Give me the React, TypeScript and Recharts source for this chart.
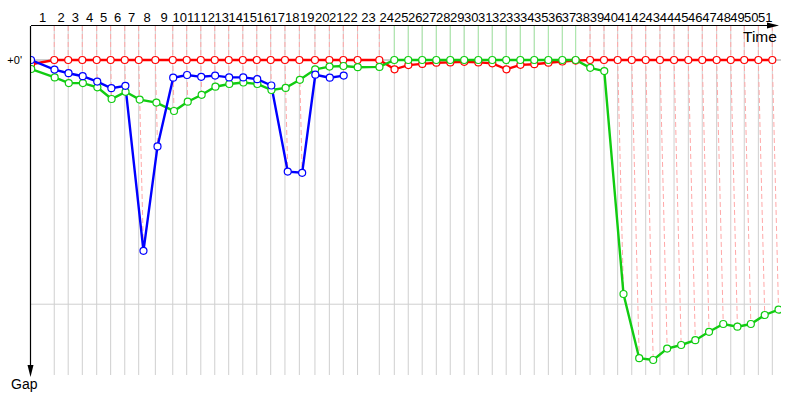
import React from 'react';
import { ComposedChart, Line, XAxis, YAxis } from 'recharts';

// Leader lap durations (seconds), laps 1..51
const lapDurations = [
  155, 93, 94, 96, 93, 94, 93, 111, 116, 93,
  94, 93, 93, 94, 93, 93, 95, 96, 104, 96,
  93, 95, 145, 100, 93, 93, 94, 93, 93, 94,
  93, 93, 94, 93, 94, 93, 89, 96, 93, 91,
  94, 93, 95, 94, 95, 93, 96, 94, 90, 94, 93,
];

// Gap to leader (seconds), index = lap (0 = start)
const redGap = [
  0.7,
  0, 0, 0, 0, 0, 0, 0, 0, 0, 0, 0, 0, 0, 0, 0, 0, 0, 0, 0, 0, 0, 0, 0,
  1.55, 0.85, 0.65, 0.45, 0.4, 0.3, 0.4, 0.55, 1.55, 0.8, 0.7, 0.45, 0.25, 0.1,
  0, 0, 0, 0, 0, 0, 0, 0, 0, 0, 0, 0, 0, 0,
];
const blueGap = [
  0, 1.6, 2.2, 2.7, 3.6, 4.7, 4.3, 31.8, 14.4, 2.95, 2.5,
  2.8, 2.6, 2.9, 2.9, 3.2, 4.25, 18.6, 18.8, 2.45, 2.95, 2.6,
];
const greenGap = [
  1.5, 2.9, 3.85, 3.85, 4.55, 6.5, 5.3, 6.6, 7.1, 8.5, 6.95,
  5.8, 4.45, 4.0, 3.75, 4.0, 5.0, 4.65, 3.3, 1.55, 1.1,
  1.0, 1.2, 1.15,
  0, 0, 0, 0, 0, 0, 0, 0, 0, 0, 0, 0, 0, 0,
  1.3, 1.85, 39.0, 49.7, 50.0, 48.1, 47.5, 46.7, 45.3, 44.0, 44.45, 44.0, 42.5, 41.6,
];

const lapLabels = lapDurations.map((_, i) => String(i + 1));
const GAP_MIN = -5.67;
const GAP_MAX = 52.5;
const TIME_MAX = 5000;
const refGap = 40.7;
const refEnd = 4930;

const RED = '#ff0000';
const BLUE = '#0000ff';
const GREEN = '#11cc11';

const leaderTime: number[] = [0];
lapDurations.forEach((d) => leaderTime.push(leaderTime[leaderTime.length - 1] + d));

const toPoints = (gaps: number[]) => gaps.map((g, i) => ({ t: leaderTime[i] + g, v: g }));
const redPts = toPoints(redGap);
const bluePts = toPoints(blueGap);
const greenPts = toPoints(greenGap);

const tickPositions = lapDurations.map((_, i) => (leaderTime[i] + leaderTime[i + 1]) / 2);

const gridPts: any[] = [];
for (let n = 1; n < leaderTime.length; n++) {
  const L = leaderTime[n];
  gridPts.push({ t: L, v: GAP_MIN }, { t: L, v: GAP_MAX }, { t: L, v: null });
}

const redLed: any[] = [];
const greenLed: any[] = [];
for (let n = 1; n < leaderTime.length; n++) {
  const L = leaderTime[n];
  const gaps = [redGap[n], blueGap[n], greenGap[n]].filter((g) => g !== undefined) as number[];
  const maxGap = Math.max(...gaps);
  const greenLeads = greenGap[n] === 0 && redGap[n] > 0;
  const target = greenLeads ? greenLed : redLed;
  target.push(
    { t: L, v: GAP_MIN },
    { t: L, v: 0 },
    { t: L + maxGap, v: maxGap },
    { t: L + maxGap, v: null }
  );
}

const zeroPts = [{ t: 0, v: 0 }, { t: TIME_MAX, v: 0 }];
const refPts = [{ t: 0, v: refGap }, { t: refEnd, v: refGap }];

const FONT = 'Liberation Sans, Arial, sans-serif';

export default function App() {
  return (
    <div style={{ position: 'absolute', left: 0, top: 0, width: 800, height: 400, background: '#fff' }}>
      <ComposedChart width={800} height={400} margin={{ top: 0, right: 19, bottom: 25, left: 0 }}>
        <XAxis
          type="number"
          dataKey="t"
          orientation="top"
          domain={[0, TIME_MAX]}
          allowDataOverflow
          height={26}
          ticks={tickPositions}
          interval={0}
          tickFormatter={(_v: any, i: number) => lapLabels[i]}
          axisLine={false}
          tickLine={false}
          tickSize={2}
          tickMargin={2}
          tick={{ fill: '#000', fontSize: 13, fontFamily: FONT }}
        />
        <YAxis
          type="number"
          domain={[GAP_MIN, GAP_MAX]}
          reversed
          allowDataOverflow
          width={31}
          ticks={[0]}
          tickFormatter={() => "+0'"}
          axisLine={false}
          tickLine={false}
          tickSize={5}
          tickMargin={4}
          tick={{ fill: '#000', fontSize: 11, fontFamily: FONT }}
        />
        <Line data={gridPts} dataKey="v" stroke="#cfcfcf" strokeWidth={1} dot={false} isAnimationActive={false} />
        <Line data={refPts} dataKey="v" stroke="#cfcfcf" strokeWidth={1} dot={false} isAnimationActive={false} />
        <Line data={zeroPts} dataKey="v" stroke="#9a9a9a" strokeWidth={1} dot={false} isAnimationActive={false} />
        <Line data={redLed} dataKey="v" stroke="#ffa8a8" strokeWidth={1} strokeDasharray="5 3" dot={false} isAnimationActive={false} />
        <Line data={greenLed} dataKey="v" stroke="#a8eaa8" strokeWidth={1} dot={false} isAnimationActive={false} />
        <Line data={redPts} dataKey="v" stroke={RED} strokeWidth={2.4} dot={{ r: 3.5, fill: '#fff', stroke: RED, strokeWidth: 1.2 }} isAnimationActive={false} />
        <Line data={greenPts} dataKey="v" stroke={GREEN} strokeWidth={2.4} dot={{ r: 3.5, fill: '#fff', stroke: GREEN, strokeWidth: 1.2 }} isAnimationActive={false} />
        <Line data={bluePts} dataKey="v" stroke={BLUE} strokeWidth={2.4} dot={{ r: 3.5, fill: '#fff', stroke: BLUE, strokeWidth: 1.2 }} isAnimationActive={false} />
      </ComposedChart>
      <svg width={800} height={400} style={{ position: 'absolute', left: 0, top: 0, pointerEvents: 'none' }}>
        <line x1={31} y1={25.5} x2={770} y2={25.5} stroke="#000" strokeWidth={1.2} />
        <polygon points="767,22.5 779,25.5 767,28.5" fill="#000" />
        <line x1={30.5} y1={26} x2={30.5} y2={368} stroke="#000" strokeWidth={1.2} />
        <polygon points="27.5,365 30.5,377 33.5,365" fill="#000" />
        <text x={743} y={41.5} fontSize={15.5} fontFamily={FONT} fill="#000">Time</text>
        <text x={11} y={388.5} fontSize={14} fontFamily={FONT} fill="#000">Gap</text>
      </svg>
    </div>
  );
}
